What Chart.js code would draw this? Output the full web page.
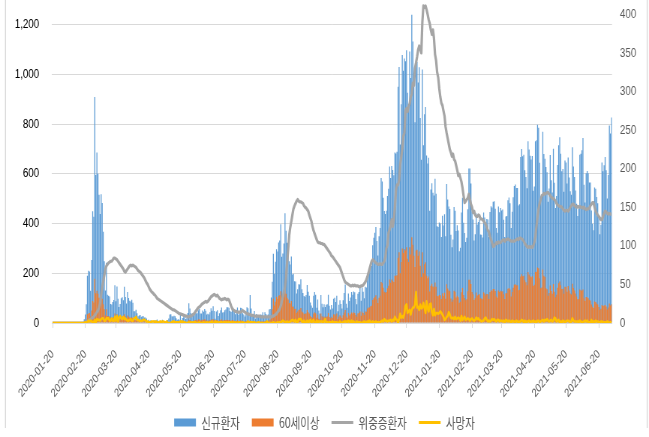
<!DOCTYPE html>
<html>
<head>
<meta charset="utf-8">
<script src="https://cdn.jsdelivr.net/npm/chart.js@4.4.1/dist/chart.umd.min.js"></script>
<style>
html,body{margin:0;padding:0;background:#fff;overflow:hidden;}
#wrap{width:649px;height:437px;}
#c{width:649px;height:437px;display:block;}
</style>
</head>
<body>
<div id="wrap"><canvas id="c" width="865" height="437" style="width:649px;height:437px;"></canvas></div>
<script>
const START_DATE = '2020-01-20';
const X_TICK_LABELS = ['2020-01-20','2020-02-20','2020-03-20','2020-04-20','2020-05-20','2020-06-20',
  '2020-07-20','2020-08-20','2020-09-20','2020-10-20','2020-11-20','2020-12-20',
  '2021-01-20','2021-02-20','2021-03-20','2021-04-20','2021-05-20','2021-06-20'];
const SERIES_NAMES = ['신규환자','60세이상','위중증환자','사망자'];

// daily new cases (left axis)
const NEW_CASES = [
  1,0,0,0,1,0,1,1,0,0,3,4,
  1,3,0,1,3,4,0,0,3,0,1,0,0,0,0,1,1,1,15,34,75,190,210,207,130,253,449,427,909,
  595,686,600,516,438,518,483,367,248,131,242,114,110,107,76,74,84,93,152,87,147,98,64,76,100,104,91,146,105,78,125,
  101,89,86,94,81,47,47,53,39,27,30,32,25,27,27,22,22,18,8,13,9,11,8,6,10,10,10,14,9,4,
  9,6,13,8,3,2,4,12,18,34,35,27,26,29,27,19,13,15,13,32,12,20,23,25,16,19,40,79,58,39,27,
  35,38,49,39,39,51,57,38,38,50,45,56,49,34,37,34,43,59,49,67,48,17,46,51,28,39,51,62,42,43,
  51,54,63,63,61,48,44,63,50,45,35,44,62,33,39,61,60,39,34,26,45,63,59,41,113,58,25,28,48,18,36,
  31,30,23,34,33,43,20,43,36,28,34,54,56,103,166,279,197,246,297,288,324,332,397,266,280,320,441,371,323,299,248,
  235,267,195,198,168,167,119,136,156,155,176,136,121,109,106,113,153,126,110,82,70,61,110,125,114,61,95,50,38,113,
  77,63,75,64,73,75,114,69,54,72,58,98,102,84,110,47,73,91,76,58,91,121,155,77,61,119,88,103,125,114,127,
  124,97,75,118,125,145,89,143,126,100,146,143,191,205,208,223,230,313,343,363,386,330,271,349,382,583,569,504,450,438,
  451,511,540,629,583,631,615,594,686,682,689,950,1030,718,880,1078,1014,1064,1053,1097,926,869,1092,985,1240,1132,970,807,1045,1050,967,
  1029,824,657,1020,715,840,869,674,641,665,451,537,562,524,513,580,520,389,386,404,400,346,431,392,437,349,559,497,469,458,355,
  305,336,467,451,370,393,372,289,303,444,504,403,362,326,343,457,621,621,561,448,416,332,357,440,396,406,415,356,
  355,344,444,424,398,418,416,346,446,470,465,488,490,459,382,363,469,445,463,452,456,415,346,428,430,494,505,482,382,447,506,
  551,557,543,543,473,478,668,700,671,677,614,587,542,731,698,673,658,672,532,549,731,735,797,785,644,499,512,769,680,661,
  627,606,488,541,676,574,525,701,564,463,511,635,715,747,681,610,619,528,654,646,561,666,585,530,516,707,629,587,533,480,430,
  459,677,681,695,744,556,485,602,611,602,565,565,452,399,373,545,540,507,482,429,357,395,645,610,634,668,614,501,595,794,
  762,826
];

// daily new cases aged 60+ (left axis)
const AGE60_CASES = [
  0,0,0,0,0,0,0,0,0,0,0,0,
  0,0,0,0,0,0,0,0,0,0,0,0,0,0,0,1,0,0,4,8,14,35,38,40,26,50,88,82,178,
  120,130,118,102,90,105,98,75,55,30,55,28,27,26,19,18,21,24,38,22,35,25,16,19,25,26,23,35,27,19,30,
  25,22,21,23,20,12,12,13,10,7,8,8,6,7,7,6,6,5,2,3,2,3,2,2,3,3,3,3,2,1,
  2,1,3,2,1,0,1,3,2,4,4,3,3,4,3,2,2,2,2,4,2,3,3,4,2,3,6,13,12,8,6,
  8,9,12,10,11,14,15,10,11,14,12,15,13,9,10,9,11,14,12,16,11,4,11,12,7,9,12,15,10,11,
  11,12,13,12,12,10,9,12,10,9,7,8,11,6,7,10,10,7,6,5,7,9,8,6,10,8,4,5,7,3,5,
  5,5,4,6,6,7,4,8,7,6,7,12,14,30,55,98,70,85,105,98,110,112,128,88,92,105,140,118,102,95,80,
  78,88,65,66,56,57,40,46,53,53,60,46,42,37,36,39,52,43,38,28,24,21,38,43,39,21,33,17,13,38,
  27,22,26,22,25,26,40,24,19,25,20,34,35,29,38,16,25,31,26,20,31,42,52,26,21,40,30,35,42,38,43,
  40,32,25,38,40,46,29,45,40,32,46,45,58,62,62,67,69,92,100,105,112,96,80,102,110,165,160,142,126,122,
  125,140,150,175,162,175,170,165,190,190,192,262,285,200,245,300,282,298,292,305,258,245,305,275,345,315,270,225,292,295,270,
  288,230,185,285,200,236,244,190,180,187,127,150,158,147,144,163,146,109,108,113,112,97,120,110,122,98,156,139,131,128,99,
  85,94,130,126,103,110,104,81,85,124,141,113,101,91,96,128,174,174,157,125,116,93,100,123,111,114,116,100,
  99,96,124,119,111,117,116,97,125,132,130,137,137,129,107,102,131,125,130,127,128,116,97,120,120,138,141,135,107,125,142,
  154,156,152,152,132,134,187,196,188,190,172,164,152,205,195,188,184,188,149,154,205,206,223,220,180,140,143,215,190,185,
  140,136,110,121,151,129,118,157,126,104,114,142,160,167,152,137,138,118,146,145,126,149,131,119,115,158,141,131,119,107,96,
  96,135,132,130,135,100,88,105,104,100,92,90,74,65,60,86,84,78,74,64,52,57,72,68,70,72,66,54,62,78,
  70,75
];

// critically ill patients (right axis)
const CRITICAL = [
  0,0,0,0,0,0,0,0,0,0,0,0,
  0,0,0,0,0,0,0,0,0,0,0,0,0,0,0,0,0,0,0,1,2,2,3,4,5,6,7,8,10,
  12,14,16,20,26,36,46,54,62,70,74,76,78,79,80,80,82,84,84,83,82,80,78,76,74,72,70,67,66,68,70,
  72,74,75,74,75,74,73,72,70,68,67,66,64,62,60,58,55,52,50,47,44,42,40,39,37,36,34,32,31,30,
  29,28,27,26,25,24,23,22,21,20,19,18,17,17,16,15,14,13,12,12,11,11,10,10,9,9,8,8,9,9,10,
  11,12,14,16,18,20,21,22,24,25,26,27,28,27,28,30,32,34,35,36,37,36,35,36,34,32,31,30,31,31,
  32,31,30,31,30,26,22,19,17,16,15,15,14,14,14,14,15,16,15,14,13,12,12,11,11,10,10,10,9,9,9,
  9,9,9,8,8,8,8,8,8,8,8,8,8,8,9,9,10,11,12,14,16,18,22,28,34,40,46,60,78,95,114,
  124,132,140,148,152,155,158,160,158,157,157,156,155,152,150,149,147,145,140,136,132,125,120,116,112,108,105,104,104,103,
  103,102,102,100,98,96,94,92,90,87,86,84,82,80,78,76,74,72,68,64,60,56,53,52,51,50,49,48,48,49,48,
  49,48,48,48,47,47,48,48,49,51,53,56,60,65,70,75,80,82,81,79,78,77,76,76,77,76,76,78,80,85,
  97,101,117,121,126,134,125,134,149,172,179,179,185,205,215,226,242,246,275,278,274,281,284,293,297,311,308,330,337,345,354,
  359,355,350,390,411,409,411,406,400,393,388,380,374,380,369,348,340,325,318,304,293,285,282,275,268,254,246,239,232,225,221,
  216,219,212,210,204,198,191,193,188,183,175,165,156,158,160,162,167,160,154,150,143,145,140,138,138,140,139,135,
  135,134,132,130,128,124,120,118,112,108,104,99,100,102,104,103,105,104,104,106,107,108,106,108,108,109,108,107,106,106,106,
  106,107,108,109,108,110,110,109,108,106,103,101,99,98,99,98,99,98,100,105,112,125,138,148,155,160,165,166,168,167,
  168,169,169,167,165,163,162,161,160,158,155,153,152,151,151,150,148,146,145,146,146,145,147,150,152,154,154,152,151,150,151,
  150,151,150,150,149,150,148,147,148,148,149,152,154,156,156,150,145,142,140,138,136,134,134,138,142,145,144,142,141,142,
  141,141
];

// daily deaths (right axis)
const DEATHS = [
  0,0,0,0,0,0,0,0,0,0,0,0,
  0,0,0,0,0,0,0,0,0,0,0,0,0,0,0,0,0,0,0,1,0,1,3,2,3,2,1,1,4,
  1,5,4,4,3,5,6,6,3,3,6,6,6,3,3,6,3,3,8,3,9,2,7,9,6,5,8,5,6,4,3,
  3,4,5,3,3,6,6,8,4,4,3,3,3,3,4,4,3,2,2,1,1,1,2,2,2,1,2,1,0,1,
  2,1,2,2,1,0,2,0,0,0,0,1,2,2,0,1,1,1,0,2,1,2,1,1,0,0,0,1,0,1,0,
  1,1,1,0,0,0,1,0,0,0,1,0,0,1,0,0,1,0,2,0,0,2,1,1,0,1,1,1,0,1,
  1,0,1,0,1,0,1,0,1,0,1,0,0,1,1,0,0,1,0,0,0,0,2,0,1,1,1,0,1,0,0,
  0,1,0,0,0,0,0,0,0,2,0,0,0,0,0,1,0,0,0,1,0,1,0,2,3,2,1,1,2,1,1,
  2,3,4,3,2,4,1,1,5,5,5,2,1,3,0,1,3,1,2,4,1,2,4,0,0,3,1,2,2,2,
  2,1,2,5,0,1,0,1,1,0,2,0,1,1,1,0,0,2,0,0,1,2,2,2,1,3,2,0,3,0,2,
  0,0,2,0,1,1,0,0,1,2,0,1,2,1,3,1,0,2,1,0,2,0,1,1,1,2,3,2,5,3,
  3,2,3,3,4,2,4,3,8,5,4,0,5,12,7,9,7,12,22,24,13,15,17,11,17,20,20,24,40,20,21,
  17,24,19,20,26,20,13,28,19,15,24,25,14,10,18,10,13,13,12,13,15,13,11,8,4,5,8,9,14,11,7,
  6,7,5,8,5,6,7,6,3,9,4,6,8,4,5,6,5,3,5,6,4,3,4,7,5,6,4,3,
  2,3,3,6,7,4,2,3,2,3,5,4,5,3,2,4,4,2,3,3,2,3,1,4,3,2,3,2,1,3,2,
  2,1,3,2,1,2,2,4,3,1,3,1,2,2,3,1,2,2,3,1,2,1,3,3,1,2,3,4,2,4,
  3,5,3,2,3,4,2,3,7,6,2,3,4,1,2,1,3,2,1,2,3,3,2,1,2,6,3,2,2,2,2,
  1,3,2,0,1,2,3,2,3,1,1,0,4,1,2,1,3,2,2,1,0,2,2,1,1,1,0,2,1,0,
  1,1
];

// one category per day, starting at START_DATE
const startMs = Date.parse(START_DATE + 'T00:00:00Z');
const CATEGORIES = NEW_CASES.map((_, i) => new Date(startMs + i * 86400000).toISOString().slice(0, 10));

const SANS = '"Liberation Sans", Arial, sans-serif';
const KR = '"Noto Sans CJK KR", "Malgun Gothic", sans-serif';

const framePlugin = {
  id: 'frame',
  beforeDraw(chart) {
    const c = chart.ctx;
    c.save(); c.fillStyle = '#fff'; c.fillRect(0, 0, chart.width, chart.height); c.restore();
  },
  afterDraw(chart) {
    const c = chart.ctx;
    c.save();
    c.strokeStyle = '#D9D9D9'; c.lineWidth = 1.4;
    c.beginPath();
    c.moveTo(7.3, 0); c.lineTo(7.3, 428);
    c.moveTo(862.6, 0); c.lineTo(862.6, 428);
    c.stroke();
    c.restore();
  }
};

new Chart(document.getElementById('c'), {
  type: 'bar',
  data: {
    labels: CATEGORIES,
    datasets: [
      { label: SERIES_NAMES[0], data: NEW_CASES, backgroundColor: '#5B9BD5', yAxisID: 'y', order: 4,
        grouped: false, barPercentage: 0.9, categoryPercentage: 1, borderWidth: 0 },
      { label: SERIES_NAMES[1], data: AGE60_CASES, backgroundColor: '#ED7D31', yAxisID: 'y', order: 3,
        grouped: false, barPercentage: 0.9, categoryPercentage: 1, borderWidth: 0 },
      { type: 'line', label: SERIES_NAMES[2], data: CRITICAL, borderColor: '#A5A5A5', backgroundColor: '#A5A5A5',
        borderWidth: 3.2, pointRadius: 0, yAxisID: 'y1', order: 2, tension: 0, borderJoinStyle: 'round' },
      { type: 'line', label: SERIES_NAMES[3], data: DEATHS, borderColor: '#FFC000', backgroundColor: '#FFC000',
        borderWidth: 2.6, pointRadius: 0, yAxisID: 'y1', order: 1, tension: 0, borderJoinStyle: 'round' }
    ]
  },
  options: {
    responsive: false,
    animation: false,
    events: [],
    devicePixelRatio: 1,
    layout: { padding: { top: 2, left: 0, right: 0, bottom: -2.5 } },
    plugins: {
      tooltip: { enabled: false },
      legend: {
        position: 'bottom',
        labels: {
          usePointStyle: true, pointStyleWidth: 29, boxHeight: 8, padding: 16,
          color: '#595959', font: { family: KR, size: 14 },
          generateLabels: chart => chart.data.datasets.map((ds, i) => ({
            text: ds.label, datasetIndex: i, hidden: false,
            fillStyle: ds.type === 'line' ? 'rgba(0,0,0,0)' : ds.backgroundColor,
            strokeStyle: ds.type === 'line' ? ds.borderColor : 'rgba(0,0,0,0)',
            lineWidth: ds.type === 'line' ? 3 : 0,
            pointStyle: ds.type === 'line' ? 'line' : 'rect',
            fontColor: '#595959'
          }))
        }
      }
    },
    scales: {
      x: {
        type: 'category', offset: true,
        grid: { display: true, offset: false, drawOnChartArea: false, drawTicks: true, tickLength: 5, color: '#D9D9D9' },
        border: { display: true, color: '#D9D9D9' },
        ticks: { autoSkip: false, maxRotation: 45, minRotation: 45, padding: 19, color: '#595959',
                 font: { family: SANS, size: 12 } },
        afterBuildTicks: s => { s.ticks = s.ticks.filter(t => X_TICK_LABELS.includes(CATEGORIES[t.value])); },
        afterFit: s => { s.height = 76.5; }
      },
      y: {
        position: 'left', min: 0, max: 1291,
        ticks: { stepSize: 200, includeBounds: false, padding: 17, color: '#000',
                 font: { family: SANS, size: 13 }, callback: v => v.toLocaleString('en-US') },
        grid: { color: '#D9D9D9', drawTicks: false },
        border: { display: false },
        afterFit: s => { s.width = 69.3; s.paddingTop = 0; s.paddingBottom = 0; }
      },
      y1: {
        position: 'right', min: 0, max: 416,
        ticks: { stepSize: 50, includeBounds: false, padding: 10.6, color: '#595959',
                 font: { family: SANS, size: 13 } },
        grid: { display: false, drawTicks: false },
        border: { display: false },
        afterFit: s => { s.width = 49.3; s.paddingTop = 0; s.paddingBottom = 0; }
      }
    }
  },
  plugins: [framePlugin]
});
</script>
</body>
</html>
